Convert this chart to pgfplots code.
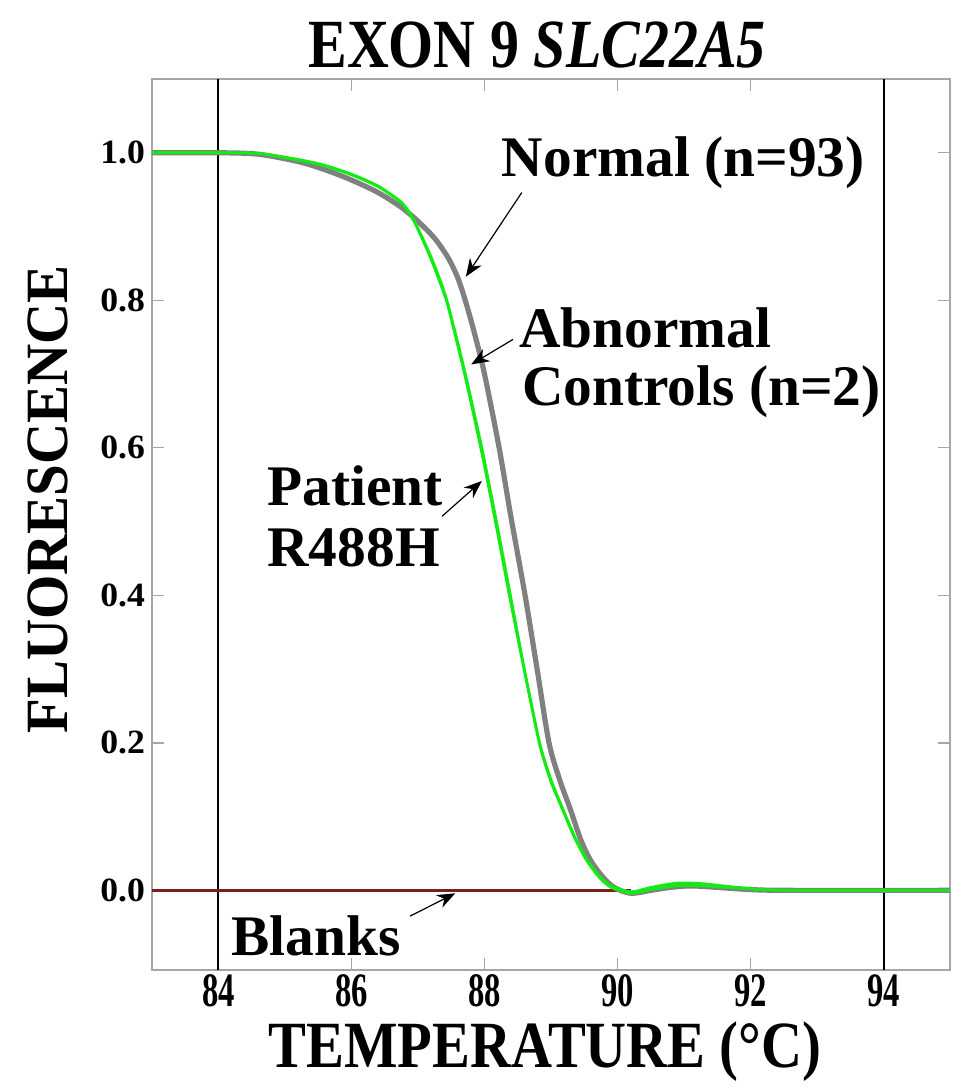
\documentclass[border=0pt]{standalone}
\usepackage{fontspec}
\setmainfont{Liberation Serif}
\newfontfamily\titlefont[FakeStretch=0.84]{Liberation Serif}
\newfontfamily\ylabfont[FakeStretch=0.95]{Liberation Serif}
\newfontfamily\xlabfont[FakeStretch=0.86]{Liberation Serif}
\newfontfamily\xtickfont[FakeStretch=0.68]{Liberation Serif}
\newfontfamily\ytickfont[FakeStretch=1.05]{Liberation Serif}
\usepackage{pgfplots}
\pgfplotsset{compat=1.18}
\usetikzlibrary{arrows.meta}
\definecolor{normalgray}{RGB}{128,128,128}
\definecolor{brightgreen}{RGB}{20,235,20}
\definecolor{blankred}{RGB}{125,30,30}
\begin{document}
\begin{tikzpicture}
\path[use as bounding box] (-76pt,-60.5pt) rectangle (411.5pt,485pt);
\begin{axis}[
  scale only axis,
  width=399pt, height=445.5pt,
  xmin=83, xmax=95, ymin=-0.108, ymax=1.1,
  clip=false,
  axis line style={draw=black!35, line width=0.7pt},
  tick style={draw=black!35, line width=0.7pt},
  major tick length=6pt,
  tick align=inside,
  xtick={84,86,88,90,92,94},
  ytick={0,0.2,0.4,0.6,0.8,1.0},
  /pgf/number format/assume math mode=true,
  xticklabel style={font=\xtickfont\fontsize{24}{26}\selectfont\bfseries, inner sep=1pt, yshift=-1pt},
  yticklabel style={font=\ytickfont\fontsize{17}{19}\selectfont\bfseries,
    /pgf/number format/.cd, fixed, fixed zerofill, precision=1},
]
% vertical reference lines
\addplot[black, line width=1pt] coordinates {(84,-0.108) (84,1.1)};
\addplot[black, line width=1pt] coordinates {(94,-0.108) (94,1.1)};
% blanks
\addplot[blankred, line width=1.2pt] coordinates {(83,0) (90.2,0)};
% normal (n=93)
\addplot[normalgray, line width=2.6pt, smooth, tension=0.5] coordinates {
(83.0,1.000) (84.0,1.000) (84.6,0.998) (85.2,0.988) (85.6,0.977) (86.0,0.963)
(86.4,0.946) (86.75,0.926) (87.0,0.907) (87.25,0.884) (87.45,0.858) (87.6,0.830)
(87.72,0.797) (87.85,0.755) (88.0,0.700) (88.22,0.600) (88.4,0.505) (88.61,0.400)
(88.8,0.295) (88.97,0.200) (89.13,0.150) (89.29,0.110) (89.45,0.068) (89.6,0.040)
(89.78,0.018) (89.95,0.004) (90.2,-0.004) (90.5,0.000) (90.8,0.004) (91.1,0.006)
(91.5,0.004) (92.0,0.001) (92.6,0.000) (95.0,0.000)};
% abnormal controls
\addplot[brightgreen, line width=1.3pt, smooth, tension=0.4] coordinates {
(83.0,1.000) (84.0,1.000) (84.6,0.999) (85.2,0.991) (85.6,0.983) (86.0,0.971)
(86.4,0.955) (86.75,0.933) (86.92,0.912) (87.05,0.888) (87.2,0.858) (87.33,0.828)
(87.45,0.795) (87.7,0.705) (87.96,0.600) (88.18,0.500) (88.39,0.400) (88.6,0.300)
(88.83,0.200) (89.0,0.150) (89.18,0.110) (89.36,0.072) (89.54,0.042) (89.72,0.020)
(89.9,0.006) (90.2,-0.002) (90.5,0.004) (90.9,0.010) (91.3,0.009) (91.8,0.004)
(92.5,0.000) (95.0,0.000)};
% patient R488H
\addplot[brightgreen, line width=1.3pt, smooth, tension=0.4] coordinates {
(83.0,1.000) (84.0,1.000) (84.6,0.999) (85.2,0.990) (85.6,0.982) (86.0,0.970)
(86.4,0.954) (86.75,0.932) (86.92,0.910) (87.05,0.886) (87.2,0.855) (87.33,0.824)
(87.45,0.792) (87.7,0.700) (87.95,0.597) (88.17,0.497) (88.38,0.397) (88.6,0.297)
(88.83,0.197) (89.0,0.147) (89.18,0.108) (89.36,0.070) (89.54,0.040) (89.72,0.018)
(89.9,0.004) (90.2,-0.004) (90.5,0.001) (90.9,0.006) (91.3,0.006) (91.8,0.003)
(92.5,0.000) (95.0,0.000)};
% texts
\node[font=\titlefont\fontsize{34.5}{36}\selectfont\bfseries] at (axis cs:88.79,1.146) {EXON 9 \textit{SLC22A5}};
\node[font=\xlabfont\fontsize{33}{35}\selectfont\bfseries, inner sep=0pt] at (axis cs:88.91,-0.219) {TEMPERATURE (°C)};
\node[font=\ylabfont\fontsize{30}{32}\selectfont\bfseries, rotate=90] at (axis cs:81.44,0.53) {FLUORESCENCE};
\node[font=\fontsize{28.7}{30}\selectfont\bfseries] at (axis cs:90.99,0.986) {Normal (n=93)};
\node[font=\fontsize{28.7}{30}\selectfont\bfseries, anchor=west] at (axis cs:88.42,0.763) {Abnormal};
\node[font=\fontsize{28.7}{30}\selectfont\bfseries, anchor=west] at (axis cs:88.46,0.676) {Controls (n=2)};
\node[font=\fontsize{28.7}{30}\selectfont\bfseries, anchor=west] at (axis cs:84.63,0.548) {Patient};
\node[font=\fontsize{28.7}{30}\selectfont\bfseries, anchor=west] at (axis cs:84.63,0.465) {R488H};
\node[font=\fontsize{28.7}{30}\selectfont\bfseries] at (axis cs:85.47,-0.062) {Blanks};
% arrows
\draw[-{Stealth[length=9pt,width=7pt]}, line width=0.6pt] (axis cs:88.56,0.946) -- (axis cs:87.72,0.832);
\draw[-{Stealth[length=9pt,width=7pt]}, line width=0.6pt] (axis cs:88.43,0.747) -- (axis cs:87.80,0.713);
\draw[-{Stealth[length=9pt,width=7pt]}, line width=0.6pt] (axis cs:87.36,0.507) -- (axis cs:87.96,0.555);
\draw[-{Stealth[length=9pt,width=7pt]}, line width=0.6pt] (axis cs:86.88,-0.035) -- (axis cs:87.56,-0.004);
\end{axis}
\end{tikzpicture}
\end{document}
